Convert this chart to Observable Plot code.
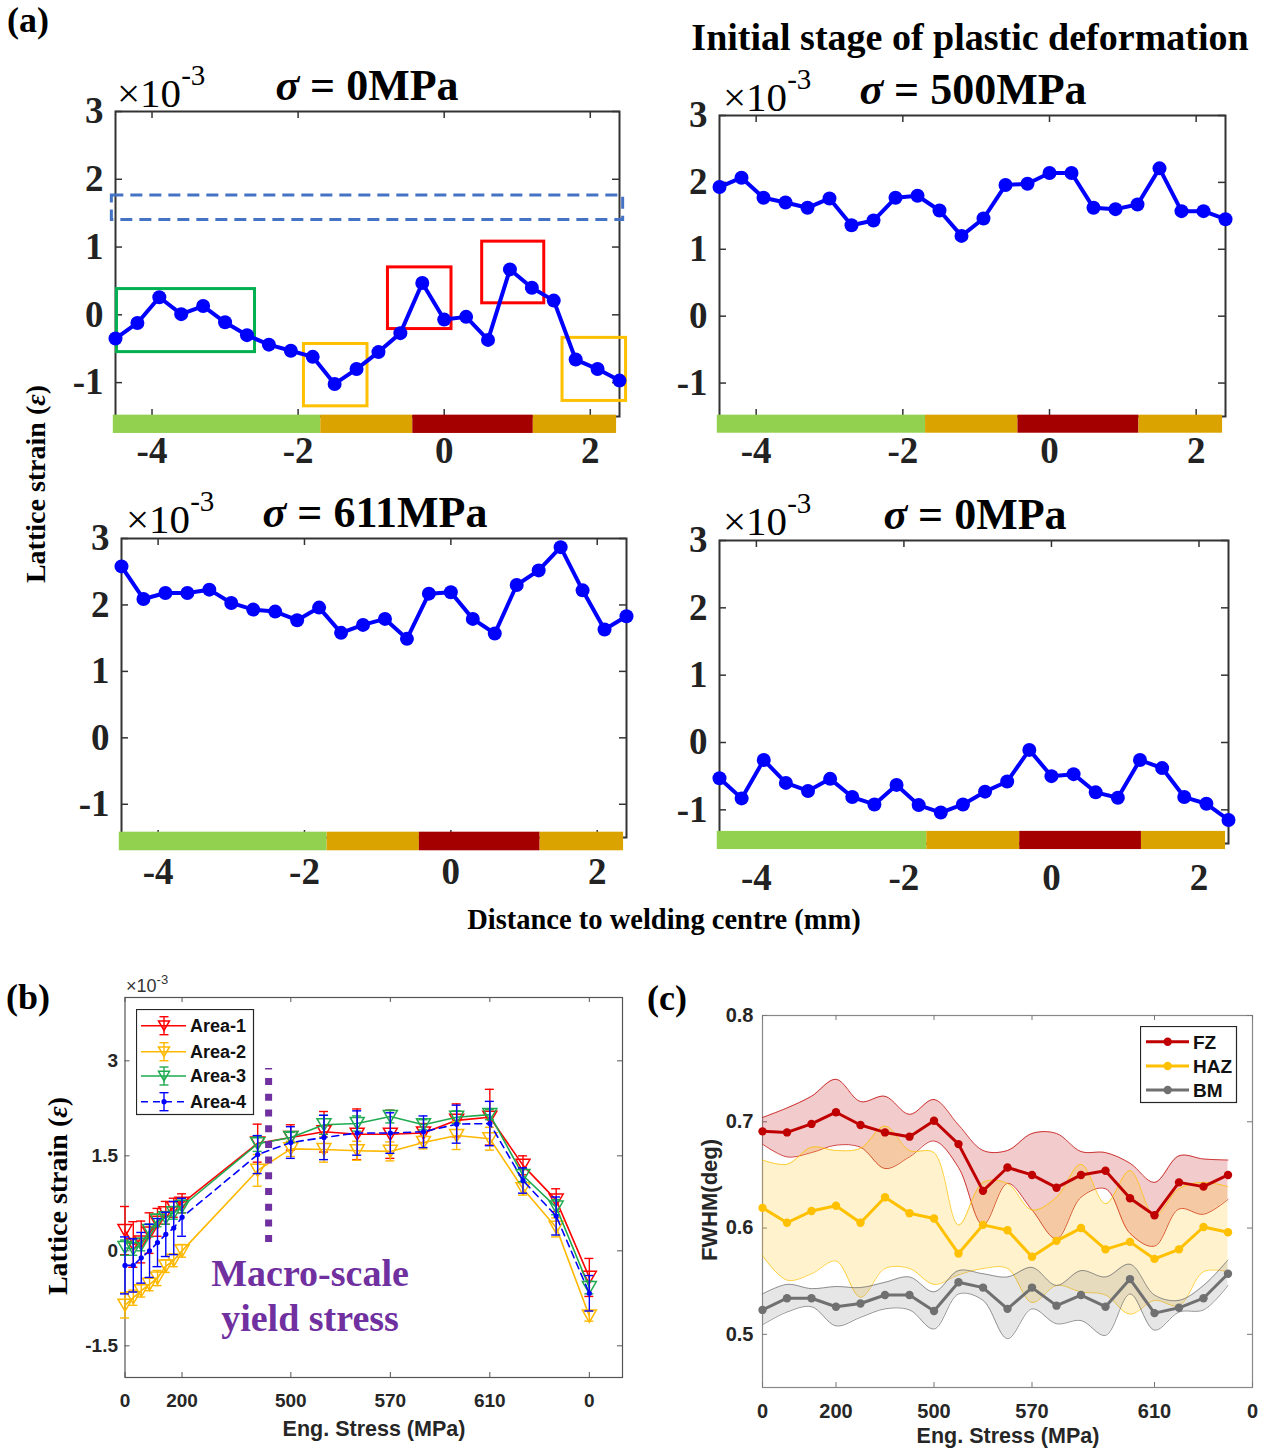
<!DOCTYPE html>
<html><head><meta charset="utf-8">
<script src="https://cdn.jsdelivr.net/npm/d3@7"></script>
<script src="https://cdn.jsdelivr.net/npm/@observablehq/plot@0.6"></script>
<style>
body{margin:0;background:#fff;}
#fig{position:relative;width:1264px;height:1455px;overflow:hidden;background:#fff;}
.abs{position:absolute;white-space:nowrap;}
</style></head><body><div id="fig"></div>
<script>
// ---------------- DATA ----------------
// (a) lattice strain (x10^-3) vs distance to welding centre (mm)
const distMM = [-4.5,-4.2,-3.9,-3.6,-3.3,-3.0,-2.7,-2.4,-2.1,-1.8,-1.5,-1.2,-0.9,-0.6,-0.3,0,0.3,0.6,0.9,1.2,1.5,1.8,2.1,2.4];
const strain0MPa   = [-0.35,-0.12,0.26,0.01,0.13,-0.11,-0.30,-0.44,-0.53,-0.62,-1.02,-0.80,-0.55,-0.27,0.47,-0.07,-0.03,-0.37,0.67,0.40,0.21,-0.66,-0.80,-0.97];
const strain500MPa = [1.93,2.07,1.77,1.70,1.62,1.76,1.36,1.43,1.77,1.80,1.58,1.20,1.46,1.96,1.98,2.14,2.14,1.62,1.60,1.67,2.21,1.57,1.57,1.45];
const strain611MPa = [2.58,2.09,2.18,2.18,2.23,2.03,1.93,1.90,1.77,1.96,1.58,1.70,1.79,1.49,2.17,2.19,1.79,1.57,2.30,2.52,2.87,2.22,1.63,1.83];
const strainUnload = [-0.53,-0.83,-0.26,-0.60,-0.72,-0.54,-0.81,-0.92,-0.63,-0.93,-1.04,-0.92,-0.73,-0.58,-0.11,-0.50,-0.47,-0.74,-0.82,-0.26,-0.38,-0.81,-0.91,-1.15];
const aTitles = ["0MPa","500MPa","611MPa","0MPa"];
const aXTicks = [-4,-2,0,2];
const aYTicks = [-1,0,1,2,3];
// weld zones bar (BM / HAZ / FZ / HAZ)
const zoneEdges = [-4.53,-1.69,-0.43,1.22,2.36];
const zoneColors = ["#92D050","#DAA300","#A50000","#DAA300"];
// annotations in the first panel
const a1Band = {x1:-4.55, x2:2.45, y1:1.40, y2:1.76};
const a1Boxes = [
  {x1:-4.48,x2:-2.59,y1:-0.55,y2:0.38,c:"#00B050"},
  {x1:-1.92,x2:-1.05,y1:-1.35,y2:-0.43,c:"#FFC000"},
  {x1:-0.77,x2:0.10,y1:-0.21,y2:0.70,c:"#FF0000"},
  {x1:0.52,x2:1.37,y1:0.17,y2:1.08,c:"#FF0000"},
  {x1:1.62,x2:2.49,y1:-1.27,y2:-0.34,c:"#FFC000"}
];

// (b) lattice strain of the four areas vs load step
const bStep = [0,0.25,0.49,0.74,0.98,1.23,1.47,1.72,4,5,6,7,8,9,10,11,12,13,14];
const bTickPos = [0,1.72,5,8,11,14];
const bTickLabels = ["0","200","500","570","610","0"];
const bYTicks = [-1.5,0,1.5,3];
const area1 = [0.32,0.10,0.14,0.28,0.45,0.60,0.68,0.75,1.70,1.79,1.88,1.84,1.84,1.86,2.06,2.11,1.35,0.80,-0.42];
const area1Err = [0.38,0.36,0.33,0.32,0.22,0.18,0.15,0.15,0.30,0.20,0.32,0.40,0.38,0.15,0.26,0.44,0.15,0.18,0.30];
const area2 = [-0.86,-0.74,-0.63,-0.53,-0.43,-0.24,-0.15,0.00,1.27,1.61,1.60,1.58,1.57,1.71,1.82,1.77,0.98,0.37,-1.03];
const area2Err = [0.20,0.12,0.10,0.10,0.12,0.10,0.10,0.10,0.25,0.12,0.20,0.15,0.15,0.10,0.22,0.18,0.10,0.15,0.08];
const area3 = [0.05,0.03,0.10,0.32,0.48,0.52,0.60,0.70,1.69,1.79,1.99,2.01,2.12,1.99,2.11,2.15,1.19,0.69,-0.58];
const area3Err = [0.12,0.10,0.10,0.10,0.10,0.10,0.10,0.10,0.12,0.08,0.15,0.12,0.10,0.08,0.10,0.08,0.10,0.12,0.10];
const area4 = [-0.23,-0.23,-0.11,0.00,0.13,0.26,0.36,0.53,1.52,1.71,1.79,1.86,1.86,1.88,2.00,2.01,1.11,0.55,-0.67];
const area4Err = [0.45,0.42,0.40,0.42,0.38,0.35,0.42,0.30,0.30,0.25,0.35,0.35,0.32,0.25,0.30,0.35,0.20,0.30,0.28];
const bYieldStep = 4.33;
const bYieldSpan = [0.13, 2.88];

// (c) FWHM vs load step
const cStep = [0,1,2,3,4,5,6,7,8,9,10,11,12,13,14,15,16,17,18,19];
const cTickPos = [0,3,7,11,16,20];
const cTickLabels = ["0","200","500","570","610","0"];
const cYTicks = [0.5,0.6,0.7,0.8];
const fz   = [0.691,0.690,0.698,0.709,0.697,0.690,0.686,0.701,0.679,0.635,0.657,0.650,0.638,0.650,0.654,0.628,0.612,0.643,0.639,0.650];
const fzHi = [0.704,0.713,0.724,0.740,0.719,0.724,0.707,0.721,0.697,0.673,0.673,0.689,0.689,0.672,0.671,0.661,0.643,0.668,0.665,0.664];
const fzLo = [0.679,0.667,0.671,0.678,0.676,0.656,0.667,0.682,0.657,0.603,0.642,0.617,0.590,0.629,0.637,0.595,0.583,0.618,0.613,0.627];
const haz   = [0.619,0.605,0.616,0.621,0.605,0.629,0.614,0.609,0.576,0.603,0.598,0.573,0.588,0.600,0.580,0.587,0.571,0.580,0.601,0.596];
const hazHi = [0.664,0.660,0.676,0.673,0.675,0.696,0.673,0.671,0.603,0.643,0.642,0.617,0.629,0.660,0.623,0.654,0.612,0.637,0.643,0.639];
const hazLo = [0.574,0.551,0.557,0.569,0.535,0.562,0.562,0.547,0.556,0.562,0.562,0.530,0.546,0.540,0.537,0.519,0.532,0.527,0.559,0.559];
const bm   = [0.523,0.534,0.534,0.526,0.529,0.537,0.537,0.522,0.549,0.544,0.524,0.544,0.527,0.537,0.526,0.552,0.520,0.525,0.534,0.557];
const bmHi = [0.538,0.547,0.543,0.545,0.544,0.549,0.554,0.540,0.560,0.557,0.554,0.563,0.546,0.560,0.554,0.566,0.537,0.532,0.546,0.570];
const bmLo = [0.509,0.521,0.526,0.508,0.516,0.524,0.523,0.505,0.538,0.532,0.496,0.524,0.510,0.513,0.499,0.538,0.504,0.521,0.523,0.546];

// ---------------- HELPERS ----------------
const SERIF = '"Liberation Serif","Times New Roman",serif';
const SANS = '"Liberation Sans",Arial,sans-serif';
const fig = document.getElementById("fig");
function label(html, o) {
  const d = document.createElement("div");
  d.className = "abs";
  d.innerHTML = html;
  d.style.left = o.x + "px"; d.style.top = o.y + "px";
  d.style.fontSize = o.size + "px"; d.style.fontFamily = o.family || SERIF;
  d.style.fontWeight = o.weight || "bold"; d.style.color = o.color || "#000";
  d.style.lineHeight = "1";
  if (o.ls) d.style.letterSpacing = o.ls + "px";
  const tx = o.anchor === "start" ? "0" : (o.anchor === "end" ? "-100%" : "-50%");
  d.style.transform = `translate(${tx},-50%)` + (o.rotate ? ` rotate(${o.rotate}deg)` : "");
  fig.appendChild(d);
}
function place(svg, left, top) {
  svg.style.position = "absolute"; svg.style.left = left + "px"; svg.style.top = top + "px";
  fig.appendChild(svg);
}

// ---------------- PANEL (a) ----------------
function panelA(c) {
  const mL = c.fx0 - c.left, mR = c.left + c.W - c.fx1, mT = c.fy0 - c.top, mB = c.top + c.H - c.fy1;
  const ih = c.fy1 - c.fy0, iw = c.fx1 - c.fx0;
  const data = distMM.map((x, i) => ({x, y: c.values[i]}));
  const zones = zoneColors.map((fill, i) => ({x1: zoneEdges[i], x2: zoneEdges[i + 1], fill}));
  const tk = {stroke: "#333", strokeWidth: 1.5};
  const marks = [
    Plot.frame({stroke: "#333", strokeWidth: 2}),
    Plot.ruleX(aXTicks, {x: d => d, insetTop: ih - 7, ...tk}),
    Plot.ruleX(aXTicks, {x: d => d, insetBottom: ih - 7, ...tk}),
    Plot.ruleY(aYTicks, {y: d => d, insetLeft: iw - 7, ...tk}),
    Plot.ruleY(aYTicks, {y: d => d, insetRight: iw - 7, ...tk}),
    Plot.rect(zones, {x1: "x1", x2: "x2", y1: c.bar[0], y2: c.bar[1], fill: "fill"})
  ];
  if (c.annot) {
    marks.push(Plot.rect([a1Band], {x1: "x1", x2: "x2", y1: "y1", y2: "y2", fill: "none", stroke: "#4472C4", strokeWidth: 3, strokeDasharray: "12 7"}));
    marks.push(Plot.rect(a1Boxes, {x1: "x1", x2: "x2", y1: "y1", y2: "y2", fill: "none", stroke: "c", strokeWidth: 3}));
  }
  marks.push(
    Plot.line(data, {x: "x", y: "y", stroke: "#0000FF", strokeWidth: 4}),
    Plot.dot(data, {x: "x", y: "y", r: 7, fill: "#0000FF", stroke: "none"}),
    Plot.axisX(aXTicks, {tickSize: 0, tickPadding: 20, fontSize: 37, fontWeight: "bold", fontFamily: SERIF, tickFormat: d => String(d), label: null}),
    Plot.axisY(aYTicks, {tickSize: 0, tickPadding: 12, fontSize: 37, fontWeight: "bold", fontFamily: SERIF, tickFormat: d => String(d), label: null})
  );
  const svg = Plot.plot({
    width: c.W, height: c.H, marginLeft: mL, marginRight: mR, marginTop: mT, marginBottom: mB,
    x: {domain: [-4.5, 2.4]}, y: {domain: [-1.5, 3]},
    style: {overflow: "visible", background: "transparent", color: "#222"},
    marks
  });
  place(svg, c.left, c.top);
  label(`<i>σ</i> = ${c.title}`, {x: c.tx, y: c.ty, size: 44, family: SERIF});
  label(`×10<span style="font-size:29px;position:relative;top:-22px">-3</span>`, {x: c.mx, y: c.my, size: 41, weight: "normal", anchor: "start", family: SERIF});
}

panelA({left: 0, top: 60, W: 640, H: 420, fx0: 115, fx1: 619, fy0: 111, fy1: 416, values: strain0MPa, bar: [-1.48, -1.75], annot: true, title: aTitles[0], tx: 367, ty: 86, mx: 117, my: 93});
panelA({left: 640, top: 60, W: 624, H: 420, fx0: 719, fx1: 1225, fy0: 115, fy1: 416, values: strain500MPa, bar: [-1.48, -1.75], title: aTitles[1], tx: 973, ty: 90, mx: 723, my: 97});
panelA({left: 0, top: 480, W: 640, H: 420, fx0: 121, fx1: 626, fy0: 538, fy1: 837, values: strain611MPa, bar: [-1.42, -1.70], title: aTitles[2], tx: 375, ty: 513, mx: 126, my: 519});
panelA({left: 640, top: 480, W: 624, H: 420, fx0: 719, fx1: 1228, fy0: 540, fy1: 843, values: strainUnload, bar: [-1.32, -1.59], title: aTitles[3], tx: 975, ty: 515, mx: 723, my: 521});

label("(a)", {x: 28, y: 20, size: 36});
label("Initial stage of plastic deformation", {x: 970, y: 37, size: 38});
label("Lattice strain (<i>ε</i>)", {x: 36, y: 484, size: 28, rotate: -90});
label("Distance to welding centre (mm)", {x: 664, y: 920, size: 28.5});

// ---------------- PANEL (b) ----------------
const triDown = {
  draw(ctx, size) {
    const s = Math.sqrt(size / (Math.sqrt(3) / 4)), h = s * Math.sqrt(3) / 2;
    ctx.moveTo(-s / 2, -h / 2); ctx.lineTo(s / 2, -h / 2); ctx.lineTo(0, h / 2); ctx.closePath();
  }
};
(function panelB() {
  const left = 0, top = 970, W = 640, H = 485, fx0 = 124.5, fx1 = 622, fy0 = 997, fy1 = 1377;
  const ih = fy1 - fy0, iw = fx1 - fx0;
  const series = [
    {v: area1, e: area1Err, color: "#FF0000", tri: true},
    {v: area2, e: area2Err, color: "#FFB800", tri: true},
    {v: area3, e: area3Err, color: "#1FAA50", tri: true},
    {v: area4, e: area4Err, color: "#0000FF", tri: false}
  ];
  const tk = {stroke: "#555", strokeWidth: 1};
  const marks = [
    Plot.frame({stroke: "#555", strokeWidth: 1.2}),
    Plot.ruleX(bTickPos, {x: d => d, insetTop: ih - 5, ...tk}),
    Plot.ruleX(bTickPos, {x: d => d, insetBottom: ih - 5, ...tk}),
    Plot.ruleY(bYTicks, {y: d => d, insetLeft: iw - 5, ...tk}),
    Plot.ruleY(bYTicks, {y: d => d, insetRight: iw - 5, ...tk})
  ];
  for (const s of series) {
    const data = bStep.map((x, i) => ({x, y: s.v[i], lo: s.v[i] - s.e[i], hi: s.v[i] + s.e[i]}));
    marks.push(
      Plot.ruleX(data, {x: "x", y1: "lo", y2: "hi", stroke: s.color, strokeWidth: 1.4}),
      Plot.ruleY(data, {x1: "x", x2: "x", y: "hi", insetLeft: -4.5, insetRight: -4.5, stroke: s.color, strokeWidth: 1.4}),
      Plot.ruleY(data, {x1: "x", x2: "x", y: "lo", insetLeft: -4.5, insetRight: -4.5, stroke: s.color, strokeWidth: 1.4}),
      Plot.line(data, {x: "x", y: "y", stroke: s.color, strokeWidth: 1.6, strokeDasharray: s.tri ? null : "7 5"}),
      s.tri ? Plot.dot(data, {x: "x", y: "y", symbol: triDown, r: 5.2, fill: "none", stroke: s.color, strokeWidth: 1.5})
            : Plot.dot(data, {x: "x", y: "y", r: 2.6, fill: s.color, stroke: "none"})
    );
  }
  marks.push(
    Plot.ruleX([bYieldStep], {x: d => d, y1: bYieldSpan[0], y2: bYieldSpan[1], stroke: "#7030A0", strokeWidth: 7, strokeDasharray: "7 8.7"}),
    Plot.axisX(bTickPos, {tickSize: 0, tickPadding: 16, fontSize: 19, fontWeight: "bold", fontFamily: SANS, tickFormat: d => bTickLabels[bTickPos.indexOf(d)], label: null}),
    Plot.axisY(bYTicks, {tickSize: 0, tickPadding: 7, fontSize: 19, fontWeight: "bold", fontFamily: SANS, tickFormat: d => String(d), label: null})
  );
  const svg = Plot.plot({
    width: W, height: H, marginLeft: fx0 - left, marginRight: left + W - fx1, marginTop: fy0 - top, marginBottom: top + H - fy1,
    x: {domain: [0, 15]}, y: {domain: [-2, 4]},
    style: {overflow: "visible", background: "transparent", color: "#262626"},
    marks
  });
  place(svg, left, top);

  // legend
  const lg = d3.create("svg").attr("width", 119).attr("height", 107);
  lg.append("rect").attr("x", 0.5).attr("y", 0.5).attr("width", 117).attr("height", 105).attr("fill", "#fff").attr("stroke", "#262626").attr("stroke-width", 1.2);
  const names = ["Area-1", "Area-2", "Area-3", "Area-4"];
  const ly = [16.7, 42.7, 67, 92.7];
  series.forEach((s, i) => {
    const g = lg.append("g").attr("transform", `translate(0,${ly[i]})`);
    g.append("line").attr("x1", 5).attr("x2", 50).attr("stroke", s.color).attr("stroke-width", 1.6).attr("stroke-dasharray", s.tri ? null : "7 5");
    g.append("line").attr("x1", 28).attr("x2", 28).attr("y1", -9).attr("y2", 9).attr("stroke", s.color).attr("stroke-width", 1.4);
    g.append("line").attr("x1", 23.5).attr("x2", 32.5).attr("y1", -9).attr("y2", -9).attr("stroke", s.color).attr("stroke-width", 1.4);
    g.append("line").attr("x1", 23.5).attr("x2", 32.5).attr("y1", 9).attr("y2", 9).attr("stroke", s.color).attr("stroke-width", 1.4);
    if (s.tri) g.append("path").attr("d", "M-5.5,-4.7L5.5,-4.7L0,4.7Z").attr("transform", "translate(28,0)").attr("fill", "none").attr("stroke", s.color).attr("stroke-width", 1.5);
    else g.append("circle").attr("cx", 28).attr("r", 2.6).attr("fill", s.color);
    g.append("text").attr("x", 54).attr("dy", "0.36em").attr("font-family", SANS).attr("font-weight", "bold").attr("font-size", 18).attr("fill", "#111").text(names[i]);
  });
  place(lg.node(), 136, 1009);

  label("(b)", {x: 28, y: 997, size: 36});
  label(`×10<span style="font-size:13px;position:relative;top:-8px">-3</span>`, {x: 126, y: 986, size: 18, weight: "normal", anchor: "start", family: SANS, color: "#333"});
  label("Lattice strain (<i>ε</i>)", {x: 58, y: 1196, size: 28, rotate: -90});
  label("Eng. Stress (MPa)", {x: 374, y: 1430, size: 21.5, family: SANS, color: "#262626"});
  label("Macro-scale", {x: 310, y: 1273, size: 38, color: "#7030A0"});
  label("yield stress", {x: 310, y: 1318, size: 38, color: "#7030A0"});
})();

// ---------------- PANEL (c) ----------------
(function panelC() {
  const left = 640, top = 970, W = 624, H = 485, fx0 = 762, fx1 = 1252, fy0 = 1015, fy1 = 1387;
  const ih = fy1 - fy0, iw = fx1 - fx0;
  const series = [
    {v: fz, hi: fzHi, lo: fzLo, color: "#C00000", band: "#C00000"},
    {v: haz, hi: hazHi, lo: hazLo, color: "#FFC000", band: "#FFC000"},
    {v: bm, hi: bmHi, lo: bmLo, color: "#707070", band: "#808080"}
  ];
  const tk = {stroke: "#777", strokeWidth: 1};
  const marks = [
    Plot.frame({stroke: "#888", strokeWidth: 1.2}),
    Plot.ruleX(cTickPos, {x: d => d, insetTop: ih - 5, ...tk}),
    Plot.ruleX(cTickPos, {x: d => d, insetBottom: ih - 5, ...tk}),
    Plot.ruleY(cYTicks, {y: d => d, insetLeft: iw - 5, ...tk}),
    Plot.ruleY(cYTicks, {y: d => d, insetRight: iw - 5, ...tk})
  ];
  const sets = series.map(s => cStep.map((x, i) => ({x, y: s.v[i], lo: s.lo[i], hi: s.hi[i]})));
  series.forEach((s, k) => {
    marks.push(
      Plot.areaY(sets[k], {x: "x", y1: "lo", y2: "hi", fill: s.band, fillOpacity: 0.2, curve: "catmull-rom"}),
      Plot.line(sets[k], {x: "x", y: "hi", stroke: s.color, strokeWidth: 1, strokeOpacity: 0.75, curve: "catmull-rom"}),
      Plot.line(sets[k], {x: "x", y: "lo", stroke: s.color, strokeWidth: 1, strokeOpacity: 0.75, curve: "catmull-rom"})
    );
  });
  series.forEach((s, k) => {
    marks.push(
      Plot.line(sets[k], {x: "x", y: "y", stroke: s.color, strokeWidth: 3}),
      Plot.dot(sets[k], {x: "x", y: "y", r: 4.2, fill: s.color, stroke: "none"})
    );
  });
  marks.push(
    Plot.axisX(cTickPos, {tickSize: 0, tickPadding: 16, fontSize: 20, fontWeight: "bold", fontFamily: SANS, tickFormat: d => cTickLabels[cTickPos.indexOf(d)], label: null}),
    Plot.axisY(cYTicks, {tickSize: 0, tickPadding: 9, fontSize: 20, fontWeight: "bold", fontFamily: SANS, tickFormat: d => d.toFixed(1), label: null})
  );
  const svg = Plot.plot({
    width: W, height: H, marginLeft: fx0 - left, marginRight: left + W - fx1, marginTop: fy0 - top, marginBottom: top + H - fy1,
    x: {domain: [0, 20]}, y: {domain: [0.45, 0.8]},
    style: {overflow: "visible", background: "transparent", color: "#262626"},
    marks
  });
  place(svg, left, top);

  const lg = d3.create("svg").attr("width", 98).attr("height", 78);
  lg.append("rect").attr("x", 0.5).attr("y", 0.5).attr("width", 96).attr("height", 76).attr("fill", "#fff").attr("stroke", "#262626").attr("stroke-width", 1.2);
  const names = ["FZ", "HAZ", "BM"];
  const ly = [15.7, 40, 64];
  series.forEach((s, i) => {
    const g = lg.append("g").attr("transform", `translate(0,${ly[i]})`);
    g.append("line").attr("x1", 6).attr("x2", 49).attr("stroke", s.color).attr("stroke-width", 3);
    g.append("circle").attr("cx", 27.7).attr("r", 4.2).attr("fill", s.color);
    g.append("text").attr("x", 53).attr("dy", "0.36em").attr("font-family", SANS).attr("font-weight", "bold").attr("font-size", 19).attr("fill", "#111").text(names[i]);
  });
  place(lg.node(), 1140, 1026);

  label("(c)", {x: 667, y: 998, size: 36});
  label("FWHM(deg)", {x: 710, y: 1200, size: 22, family: SANS, color: "#262626", rotate: -90});
  label("Eng. Stress (MPa)", {x: 1008, y: 1437, size: 21.5, family: SANS, color: "#262626"});
})();
</script></body></html>
